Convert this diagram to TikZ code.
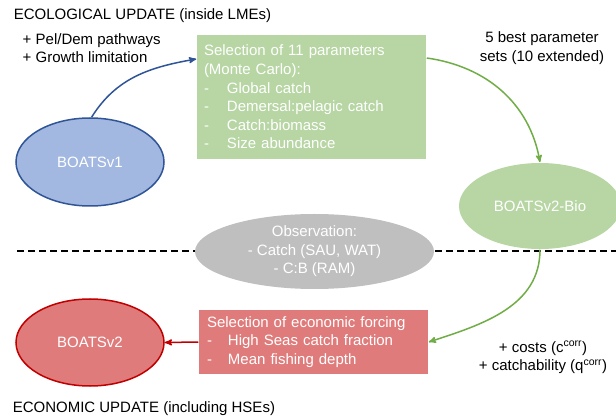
\documentclass[tikz,border=0pt]{standalone}
\usepackage{fontspec}
\setmainfont{Liberation Sans}
\usetikzlibrary{arrows,shapes.geometric,positioning}

\definecolor{boxgreen}{RGB}{183,214,164}
\definecolor{arrgreen}{RGB}{112,173,71}
\definecolor{ellblue}{RGB}{162,184,224}
\definecolor{darkblue}{RGB}{47,85,151}
\definecolor{boxred}{RGB}{224,123,123}
\definecolor{darkred}{RGB}{192,0,0}
\definecolor{obsgrey}{RGB}{191,191,191}

\newcommand{\itm}[2][23pt]{\makebox[#1][l]{-}#2}

\begin{document}
\begin{tikzpicture}[x=1pt,y=1pt,>=stealth',line width=1.5pt,
  every node/.style={font=\fontsize{15}{18.6}\selectfont},
  model/.style={ellipse,text=white,minimum width=148pt,minimum height=88pt},
  panel/.style={rectangle,text=white,align=left,minimum height=124pt,text width=215pt,inner xsep=7pt},
  note/.style={inner sep=0pt,align=center}]
\useasboundingbox (0,0) rectangle (616,418);

% dashed border between the two updates
\coordinate (dashL) at (17,167);
\coordinate (dashR) at (616,167);
\draw[dashed,dash pattern=on 7pt off 4pt,line width=1.6pt] (dashL) -- (dashR);

% ecological part
\node[anchor=base west,inner sep=0pt] (ecotitle) at (13,398) {ECOLOGICAL UPDATE (inside LMEs)};
\node[note,align=left,anchor=west] (pathways) at (22,370) {+ Pel/Dem pathways\\+ Growth limitation};
\node[model,fill=ellblue,draw=darkblue] (v1) at (90,256) {BOATSv1};
\node[panel,fill=boxgreen] (sel) at (311.5,321) {Selection of 11 parameters\\(Monte Carlo):\\
  \itm{Global catch}\\\itm{Demersal:pelagic catch}\\\itm{Catch:biomass}\\\itm{Size abundance}};
\node[note] (best) at (542,370) {5 best parameter\\sets (10 extended)};
\node[model,fill=boxgreen,minimum width=162pt,minimum height=86pt] (bio) at (540,212) {BOATSv2-Bio};

% observations
\node[ellipse,fill=obsgrey,text=white,align=center,minimum width=239pt,minimum height=75pt,inner sep=0pt] (obs) at (314.5,166.5)
  {Observation:\\- Catch (SAU, WAT)\\- C:B (RAM)};

% economic part
\node[panel,fill=boxred,minimum height=64pt,inner xsep=8pt,text width=213pt] (eco) at (313.5,76)
  {Selection of economic forcing\\\itm[21pt]{High Seas catch fraction}\\\itm[21pt]{Mean fishing depth}};
\node[model,fill=boxred,draw=darkred,minimum height=87pt] (v2) at (90,75.5) {BOATSv2};
\node[note] (corr) at (543,60.5) {+ costs (c\textsuperscript{corr})\\+ catchability (q\textsuperscript{corr})};
\node[anchor=base west,inner sep=0pt] (econtitle) at (12,6) {ECONOMIC UPDATE (including HSEs)};

\path[->] (v1.88) edge[darkblue,out=58,in=190] ([yshift=38pt]sel.west)
          ([yshift=39pt]sel.east) edge[arrgreen,out=-8,in=100] (bio.north)
          (bio.south) edge[arrgreen,out=-90,in=18] (eco.east)
          (eco.west) edge[darkred] (v2.east);
\end{tikzpicture}
\end{document}
